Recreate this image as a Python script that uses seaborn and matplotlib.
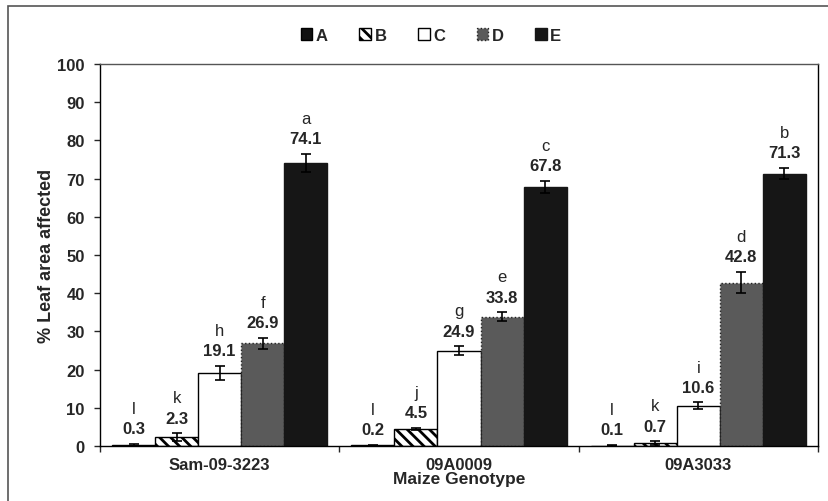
import pandas as pd
import seaborn as sns
import matplotlib.pyplot as plt
from matplotlib.patches import Patch, Rectangle

genotypes = ["Sam-09-3223", "09A0009", "09A3033"]
treatments = ["A", "B", "C", "D", "E"]
# values per treatment, in genotype order
values = {
    "A": [0.3, 0.2, 0.1],
    "B": [2.3, 4.5, 0.7],
    "C": [19.1, 24.9, 10.6],
    "D": [26.9, 33.8, 42.8],
    "E": [74.1, 67.8, 71.3],
}
errors = {
    "A": [0.2, 0.1, 0.1],
    "B": [1.0, 0.3, 0.5],
    "C": [1.8, 1.2, 0.8],
    "D": [1.5, 1.2, 2.8],
    "E": [2.3, 1.5, 1.5],
}
letters = {
    "A": ["l", "l", "l"],
    "B": ["k", "j", "k"],
    "C": ["h", "g", "i"],
    "D": ["f", "e", "d"],
    "E": ["a", "c", "b"],
}

rows = []
for t in treatments:
    for g, v in zip(genotypes, values[t]):
        rows.append({"genotype": g, "treatment": t, "value": v})
df = pd.DataFrame(rows)

sns.set_style("ticks")
plt.rcParams["font.family"] = ["Liberation Sans", "DejaVu Sans"]
plt.rcParams["hatch.linewidth"] = 2.0

styles = {
    "A": dict(facecolor="#111111", edgecolor="black", hatch=None, linestyle="-"),
    "B": dict(facecolor="white", edgecolor="black", hatch="\\\\\\", linestyle="-"),
    "C": dict(facecolor="white", edgecolor="black", hatch=None, linestyle="-"),
    "D": dict(facecolor="#5a5a5a", edgecolor="#222222", hatch=None, linestyle=":"),
    "E": dict(facecolor="#161616", edgecolor="#161616", hatch=None, linestyle="-"),
}

fig = plt.figure(figsize=(8.29, 5.02), dpi=100)
ax = fig.add_axes([100 / 829, 55 / 502, 718 / 829, 382 / 502])

sns.barplot(data=df, x="genotype", y="value", hue="treatment", order=genotypes,
            hue_order=treatments, width=0.9, errorbar=None, ax=ax,
            palette=["black"] * 5, legend=False)

for t, container in zip(treatments, ax.containers):
    st = styles[t]
    xs = []
    for bar in container:
        bar.set_facecolor(st["facecolor"])
        bar.set_edgecolor(st["edgecolor"])
        bar.set_linewidth(1.0)
        bar.set_linestyle(st["linestyle"])
        if st["hatch"]:
            bar.set_hatch(st["hatch"])
        xs.append(bar.get_x() + bar.get_width() / 2)
    ax.errorbar(xs, values[t], yerr=errors[t], fmt="none", ecolor="black",
                elinewidth=1.2, capsize=3.5, capthick=1.2, zorder=5)
    for x, v, e, lt in zip(xs, values[t], errors[t], letters[t]):
        ax.annotate(f"{v:.1f}", (x, v + e), xytext=(0, 11), textcoords="offset points",
                    ha="center", va="center", fontsize=12, fontweight="bold")
        ax.annotate(lt, (x, v + e), xytext=(0, 25.5), textcoords="offset points",
                    ha="center", va="center", fontsize=12)

ax.set_xlim(-0.5, 2.5)
ax.set_ylim(0, 100)
ax.set_yticks(range(0, 101, 10))
ax.set_xticks([-0.5, 0.5, 1.5, 2.5], minor=True)
ax.tick_params(axis="x", which="major", length=0, pad=8)
ax.tick_params(axis="x", which="minor", length=4, width=1, direction="out")
ax.tick_params(axis="y", length=4, width=1, pad=7)
for lbl in ax.get_xticklabels() + ax.get_yticklabels():
    lbl.set_fontweight("bold")
    lbl.set_fontsize(12)

for side in ["left", "bottom", "right"]:
    ax.spines[side].set_visible(True)
    ax.spines[side].set_color("black")
    ax.spines[side].set_linewidth(1.0)
ax.spines["top"].set_visible(True)
ax.spines["top"].set_color("#555555")
ax.spines["top"].set_linewidth(1.0)

ax.set_xlabel("Maize Genotype", fontsize=12.5, fontweight="bold")
ax.xaxis.set_label_coords(0.5, -0.065)
ax.set_ylabel("% Leaf area affected", fontsize=13, fontweight="bold")
ax.yaxis.set_label_coords(-0.062, 0.5)

handles = [Patch(facecolor=styles[t]["facecolor"], edgecolor=styles[t]["edgecolor"],
                 hatch=styles[t]["hatch"], linestyle=styles[t]["linestyle"], label=t)
           for t in treatments]
fig.legend(handles=handles, loc="center", bbox_to_anchor=(0.52, 0.927), ncol=5,
           frameon=False, handlelength=0.7, handleheight=0.7, handletextpad=0.2,
           columnspacing=1.9, prop={"weight": "bold", "size": 12})

fig.patches.append(Rectangle((8 / 829, -0.01), 1.0, 1 - 7 / 502 + 0.01,
                             transform=fig.transFigure, fill=False,
                             edgecolor="#555555", linewidth=1.2))

fig.savefig("out.png", dpi=100)
